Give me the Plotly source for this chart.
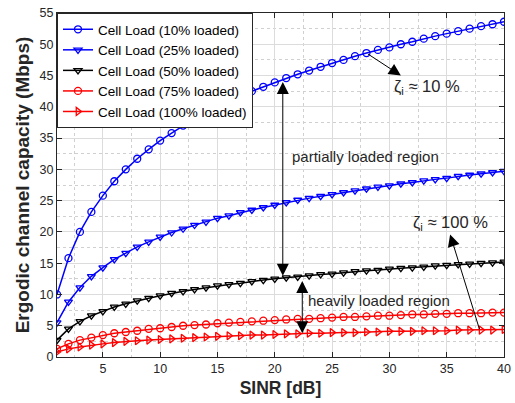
import plotly.graph_objects as go

sinr_db = list(range(1, 41))

load_10 = [10.0, 15.8, 20.0, 23.2, 25.8, 28.1, 30.0, 31.7, 33.2, 34.6, 35.8, 37.0, 38.1, 39.1, 40.0,
           40.9, 41.7, 42.5, 43.2, 43.9, 44.6, 45.2, 45.8, 46.4, 47.0, 47.5, 48.1, 48.6, 49.1, 49.5,
           50.0, 50.4, 50.9, 51.3, 51.7, 52.1, 52.5, 52.9, 53.2, 53.6]
load_25 = [5.5, 8.8, 11.1, 12.9, 14.3, 15.6, 16.6, 17.6, 18.4, 19.2, 19.9, 20.5, 21.1, 21.6, 22.2,
           22.6, 23.1, 23.5, 23.9, 24.3, 24.7, 25.1, 25.4, 25.7, 26.0, 26.3, 26.6, 26.9, 27.2, 27.4,
           27.7, 27.9, 28.2, 28.4, 28.6, 28.9, 29.1, 29.3, 29.5, 29.7]
load_50 = [2.7, 4.5, 5.7, 6.6, 7.3, 8.0, 8.5, 9.0, 9.4, 9.8, 10.2, 10.5, 10.8, 11.1, 11.4,
           11.6, 11.8, 12.1, 12.3, 12.5, 12.7, 12.8, 13.0, 13.2, 13.3, 13.5, 13.7, 13.8, 13.9, 14.1,
           14.2, 14.3, 14.4, 14.6, 14.7, 14.8, 14.9, 15.0, 15.1, 15.2]
load_75 = [1.3, 2.1, 2.7, 3.1, 3.5, 3.8, 4.0, 4.2, 4.5, 4.6, 4.8, 5.0, 5.1, 5.2, 5.4,
           5.5, 5.6, 5.7, 5.8, 5.9, 6.0, 6.1, 6.1, 6.2, 6.3, 6.4, 6.4, 6.5, 6.6, 6.6,
           6.7, 6.8, 6.8, 6.9, 6.9, 7.0, 7.0, 7.0, 7.1, 7.1]
load_100 = [0.8, 1.3, 1.6, 1.9, 2.1, 2.3, 2.5, 2.6, 2.7, 2.8, 2.9, 3.0, 3.1, 3.2, 3.3,
            3.4, 3.4, 3.5, 3.5, 3.6, 3.7, 3.7, 3.8, 3.8, 3.9, 3.9, 3.9, 4.0, 4.0, 4.1,
            4.1, 4.1, 4.2, 4.2, 4.2, 4.3, 4.3, 4.3, 4.3, 4.4]

series = [
    ("Cell Load (10% loaded)", load_10, "#0000FF", "circle-open"),
    ("Cell Load (25% loaded)", load_25, "#0000FF", "triangle-down-open"),
    ("Cell Load (50% loaded)", load_50, "#000000", "triangle-down-open"),
    ("Cell Load (75% loaded)", load_75, "#FF0000", "circle-open"),
    ("Cell Load (100% loaded)", load_100, "#FF0000", "triangle-right-open"),
]

x_ticks = [5, 10, 15, 20, 25, 30, 35, 40]
y_ticks = [0, 5, 10, 15, 20, 25, 30, 35, 40, 45, 50, 55]

FONT = "Liberation Sans, Arial, sans-serif"
TXT = "#262626"

fig = go.Figure()
for name, vals, col, sym in series:
    fig.add_trace(go.Scatter(
        x=sinr_db, y=vals, mode="lines+markers", name=name,
        line=dict(color=col, width=1.5),
        marker=dict(symbol=sym, size=7, color=col, line=dict(color=col, width=1.3)),
    ))

axis_common = dict(
    showline=True, linecolor="#262626", linewidth=1, mirror="ticks",
    ticks="inside", ticklen=5, tickcolor="#262626",
    showgrid=True, gridcolor="#dcdcdc", gridwidth=1, zeroline=False,
    tickfont=dict(family=FONT, size=12.5, color=TXT),
    minor=dict(showgrid=True, gridcolor="#d0d0d0", griddash="dot", gridwidth=1, dtick=2.5),
    automargin=False,
)

fig.update_layout(
    width=515, height=403,
    margin=dict(l=57, r=11, t=13, b=46),
    paper_bgcolor="white", plot_bgcolor="white",
    font=dict(family=FONT, size=13, color=TXT),
    showlegend=True,
    legend=dict(
        x=0.0, y=1.0, xanchor="left", yanchor="top",
        bgcolor="white", bordercolor="#262626", borderwidth=1,
        font=dict(family=FONT, size=13.5, color="#000000"),
        tracegroupgap=0, itemwidth=30,
    ),
    xaxis=dict(range=[1, 40], tickvals=x_ticks,
               title=dict(text="<b>SINR [dB]</b>", font=dict(family=FONT, size=17.5, color=TXT), standoff=6),
               **axis_common),
    yaxis=dict(range=[0, 55], tickvals=y_ticks,
               title=dict(text="<b>Ergodic channel capacity (Mbps)</b>", font=dict(family=FONT, size=19, color=TXT), standoff=4),
               **axis_common),
)

arrow = dict(showarrow=True, arrowcolor="black", arrowwidth=1, arrowhead=2, arrowsize=2.4,
             axref="x", ayref="y", xref="x", yref="y", text="")

# zeta 10% arrow
fig.add_annotation(x=31.0, y=45.0, ax=28.0, ay=48.6, **arrow)
# partially loaded double arrow
fig.add_annotation(x=20.7, y=13.0, ax=20.7, ay=44.2, arrowside="end+start", **arrow)
# heavily loaded double arrow
fig.add_annotation(x=22.4, y=3.8, ax=22.4, ay=12.4, arrowside="end+start", **arrow)
# zeta 100% arrow
fig.add_annotation(x=35.3, y=19.6, ax=37.9, ay=4.2, **arrow)

txt = dict(showarrow=False, xref="x", yref="y", font=dict(family=FONT, size=15, color=TXT), xanchor="left")
ztxt = dict(showarrow=False, xref="x", yref="y", font=dict(family=FONT, size=16.5, color=TXT), xanchor="left")
fig.add_annotation(x=30.2, y=43.2, text="ζ<sub>i</sub> ≈ 10 %", **ztxt)
fig.add_annotation(x=21.3, y=32.0, text="partially loaded region", **txt)
fig.add_annotation(x=22.7, y=9.1, text="heavily loaded region", **txt)
fig.add_annotation(x=31.9, y=21.4, text="ζ<sub>i</sub> ≈ 100 %", **ztxt)

fig.write_html("out.html", config={"displayModeBar": False},
               post_script="document.body.style.margin='0';document.body.style.padding='0';")
